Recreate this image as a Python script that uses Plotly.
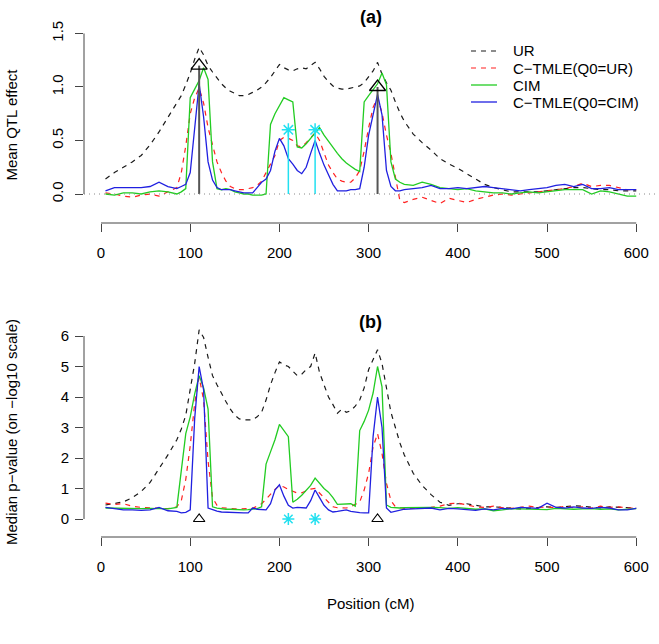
import plotly.graph_objects as go

# ---------------- data ----------------
position_cM = [5, 15, 25, 35, 45, 55, 65, 75, 85,
               90, 95, 100, 105, 110, 115, 120, 125, 130, 135, 140, 145, 150, 155, 160, 165,
               170, 175, 180, 185, 190, 195, 200, 205, 210, 215, 220, 225, 230, 235, 240, 245,
               250, 255, 260, 265, 270, 275, 280, 285, 290, 295, 300, 305, 310, 315, 320, 325,
               330, 335, 340,
               350, 360, 370, 380, 390, 400, 410, 420, 430, 440, 450, 460, 470, 480, 490, 500,
               510, 520, 530, 540, 550, 560, 570, 580, 590, 600]

series_names = ["UR", "C\u2212TMLE(Q0=UR)", "CIM", "C\u2212TMLE(Q0=CIM)"]

# panel (a): mean QTL effect
ur_a = [0.14, 0.20, 0.25, 0.30, 0.36, 0.46, 0.58, 0.72, 0.86,
        0.92, 1.02, 1.13, 1.26, 1.37, 1.30, 1.20, 1.14, 1.08, 1.03, 0.99, 0.96, 0.94, 0.92, 0.92, 0.93,
        0.95, 0.97, 1.00, 1.04, 1.09, 1.15, 1.21, 1.18, 1.16, 1.15, 1.17, 1.18, 1.17, 1.20, 1.23, 1.17,
        1.10, 1.05, 1.01, 0.99, 0.98, 0.98, 0.99, 1.00, 1.01, 1.04, 1.09, 1.15, 1.23, 1.12, 1.04, 0.97,
        0.86, 0.76, 0.68,
        0.56, 0.48, 0.41, 0.33, 0.28, 0.24, 0.19, 0.14, 0.09, 0.06, 0.04, 0.02, 0.02, 0.02, 0.02, 0.03,
        0.04, 0.05, 0.06, 0.06, 0.05, 0.04, 0.04, 0.03, 0.03, 0.03]
ctmle_ur_a = [0.01, 0.00, -0.02, -0.03, -0.01, 0.00, -0.02, 0.02, 0.06,
              0.20, 0.45, 0.75, 0.90, 0.99, 0.85, 0.62, 0.45, 0.30, 0.20, 0.12, 0.07, 0.05, 0.04, 0.04, 0.05,
              0.06, 0.08, 0.12, 0.20, 0.28, 0.36, 0.50, 0.53, 0.52, 0.50, 0.45, 0.44, 0.48, 0.53, 0.57, 0.50,
              0.38, 0.27, 0.20, 0.14, 0.12, 0.11, 0.11, 0.15, 0.22, 0.40, 0.62, 0.81, 0.90, 0.76, 0.55, 0.38,
              0.16, -0.06, -0.08,
              -0.05, -0.03, -0.06, -0.09, -0.04, -0.06, -0.08, -0.05, -0.03, -0.01, 0.00, -0.01, 0.00, 0.01, 0.02, 0.03,
              0.04, 0.05, 0.07, 0.10, 0.07, 0.08, 0.08, 0.06, 0.04, 0.04]
cim_a = [0.00, -0.01, 0.01, 0.01, 0.00, 0.02, 0.03, 0.02, 0.00,
         0.02, 0.05, 0.90, 0.98, 1.06, 1.18, 1.07, 0.30, 0.05, 0.04, 0.05, 0.04, 0.02, 0.01, 0.00, 0.00,
         -0.01, -0.01, -0.01, 0.00, 0.65, 0.75, 0.83, 0.90, 0.88, 0.86, 0.44, 0.43, 0.47, 0.52, 0.57, 0.62,
         0.55, 0.49, 0.43, 0.38, 0.33, 0.29, 0.26, 0.23, 0.21, 0.86, 0.92, 0.97, 1.03, 1.13, 1.02, 0.30,
         0.14, 0.11, 0.09,
         0.08, 0.11, 0.09, 0.06, 0.05, 0.04, 0.05, 0.03, 0.02, 0.01, 0.01, 0.00, 0.01, 0.02, 0.01, 0.02,
         0.03, 0.04, 0.04, 0.04, 0.00, 0.03, 0.02, 0.00, -0.02, -0.02]
ctmle_cim_a = [0.03, 0.06, 0.06, 0.06, 0.06, 0.07, 0.11, 0.07, 0.05,
               0.07, 0.09, 0.20, 0.65, 1.03, 0.72, 0.30, 0.13, 0.06, 0.04, 0.04, 0.04, 0.03, 0.02, 0.01, 0.01,
               0.01, 0.06, 0.11, 0.14, 0.22, 0.40, 0.52, 0.45, 0.33, 0.28, 0.22, 0.19, 0.25, 0.38, 0.50, 0.38,
               0.27, 0.18, 0.09, 0.03, 0.03, 0.03, 0.04, 0.04, 0.05, 0.25, 0.55, 0.75, 0.93, 0.74, 0.22, 0.07,
               0.03, 0.03, 0.04,
               0.05, 0.06, 0.08, 0.05, 0.05, 0.06, 0.05, 0.06, 0.07, 0.06, 0.05, 0.04, 0.03, 0.04, 0.05, 0.06,
               0.08, 0.09, 0.07, 0.09, 0.05, 0.05, 0.06, 0.04, 0.04, 0.04]

# panel (b): median p-value on -log10 scale
ur_b = [0.46, 0.50, 0.56, 0.70, 0.90, 1.20, 1.65, 2.10, 2.60,
        2.95, 3.40, 4.20, 5.10, 6.20, 5.95, 5.30, 4.70, 4.40, 4.10, 3.85, 3.60, 3.40, 3.28, 3.25, 3.25,
        3.25, 3.35, 3.50, 3.90, 4.40, 4.80, 5.15, 5.05, 5.00, 4.85, 4.70, 4.75, 4.90, 5.00, 5.44, 4.80,
        4.40, 4.00, 3.75, 3.47, 3.60, 3.50, 3.55, 3.70, 3.90, 4.30, 4.90, 5.20, 5.55, 5.10, 4.30, 3.50,
        3.00, 2.50, 2.10,
        1.50, 1.10, 0.80, 0.55, 0.45, 0.50, 0.50, 0.45, 0.40, 0.40, 0.38, 0.35, 0.33, 0.35, 0.38, 0.40,
        0.38, 0.40, 0.43, 0.42, 0.38, 0.36, 0.40, 0.38, 0.36, 0.36]
ctmle_ur_b = [0.52, 0.48, 0.50, 0.42, 0.38, 0.36, 0.35, 0.34, 0.40,
              0.60, 1.30, 2.40, 3.80, 4.65, 3.90, 1.90, 0.70, 0.45, 0.37, 0.35, 0.34, 0.33, 0.33, 0.34, 0.34,
              0.35, 0.42, 0.50, 0.65, 0.82, 0.97, 1.10, 1.05, 0.97, 0.90, 0.85, 0.86, 0.92, 0.98, 1.00, 0.85,
              0.68, 0.52, 0.40, 0.37, 0.36, 0.36, 0.40, 0.47, 0.56, 0.95, 1.50, 2.36, 2.80, 2.15, 1.17, 0.60,
              0.40, 0.37, 0.35,
              0.35, 0.36, 0.38, 0.42, 0.50, 0.52, 0.45, 0.40, 0.38, 0.42, 0.37, 0.35, 0.38, 0.42, 0.38, 0.40,
              0.36, 0.42, 0.37, 0.40, 0.36, 0.42, 0.38, 0.40, 0.36, 0.36]
cim_b = [0.36, 0.35, 0.34, 0.33, 0.34, 0.35, 0.34, 0.33, 0.38,
         1.50, 2.80, 3.35, 4.10, 4.70, 4.30, 3.60, 0.40, 0.36, 0.33, 0.32, 0.32, 0.31, 0.30, 0.30, 0.31,
         0.32, 0.34, 0.40, 1.80, 2.20, 2.60, 3.10, 2.90, 2.70, 0.55, 0.65, 0.78, 0.95, 1.10, 1.34, 1.15,
         1.00, 0.88, 0.70, 0.48, 0.48, 0.50, 0.50, 0.42, 2.90, 3.20, 3.57, 4.13, 5.00, 4.33, 0.46, 0.38,
         0.36, 0.36, 0.37,
         0.38, 0.38, 0.38, 0.37, 0.35, 0.37, 0.34, 0.32, 0.33, 0.27, 0.30, 0.34, 0.33, 0.32, 0.33, 0.31,
         0.35, 0.33, 0.32, 0.33, 0.34, 0.32, 0.33, 0.30, 0.33, 0.34]
ctmle_cim_b = [0.38, 0.33, 0.30, 0.30, 0.28, 0.30, 0.38, 0.27, 0.25,
               0.20, 0.22, 0.30, 3.30, 5.00, 4.23, 0.36, 0.30, 0.26, 0.23, 0.22, 0.21, 0.20, 0.20, 0.20, 0.20,
               0.36, 0.32, 0.30, 0.30, 0.50, 0.95, 1.12, 0.75, 0.45, 0.36, 0.38, 0.38, 0.36, 0.60, 0.95, 0.70,
               0.45, 0.30, 0.23, 0.25, 0.28, 0.30, 0.25, 0.22, 0.21, 0.20, 0.20, 2.70, 4.00, 3.00, 0.36, 0.22,
               0.25, 0.30, 0.32,
               0.33, 0.35, 0.36, 0.30, 0.35, 0.33, 0.30, 0.28, 0.33, 0.30, 0.35, 0.33, 0.38, 0.36, 0.35, 0.52,
               0.38, 0.36, 0.40, 0.36, 0.35, 0.38, 0.36, 0.30, 0.30, 0.35]

# true QTL (triangles) and linked QTL (asterisks)
qtl_pos = [110, 310]
qtl_effect = [1.2, 1.0]
linked_pos = [210, 240]
linked_effect = [0.6, 0.6]

x_ticks = [0, 100, 200, 300, 400, 500, 600]
ya_ticks = [0, 0.5, 1.0, 1.5]
ya_ticktext = ["0.0", "0.5", "1.0", "1.5"]
yb_ticks = [0, 1, 2, 3, 4, 5, 6]

# ---------------- styles ----------------
FONT = "Liberation Sans, Arial, sans-serif"
styles = [
    dict(color="#1a1a1a", width=1.2, dash="5px,5px"),
    dict(color="#ff2020", width=1.2, dash="5px,5px"),
    dict(color="#22cc22", width=1.3, dash="solid"),
    dict(color="#2020e0", width=1.3, dash="solid"),
]

fig = go.Figure()

panel_a = [ur_a, ctmle_ur_a, cim_a, ctmle_cim_a]
panel_b = [ur_b, ctmle_ur_b, cim_b, ctmle_cim_b]

for name, vals, st in zip(series_names, panel_a, styles):
    fig.add_trace(go.Scatter(x=position_cM, y=vals, mode="lines", name=name, line=st,
                             xaxis="x", yaxis="y", showlegend=False))
for name, vals, st in zip(series_names, panel_b, styles):
    fig.add_trace(go.Scatter(x=position_cM, y=vals, mode="lines", name=name, line=st,
                             xaxis="x2", yaxis="y2", showlegend=False))


def segs(pos, top):
    xs, ys = [], []
    for p, t in zip(pos, top):
        xs += [p, p, None]
        ys += [0, t, None]
    return xs, ys


# panel (a) vertical lines + markers
qx, qy = segs(qtl_pos, qtl_effect)
fig.add_trace(go.Scatter(x=qx, y=qy, mode="lines", line=dict(color="#555555", width=2),
                         xaxis="x", yaxis="y", showlegend=False))
lx, ly = segs(linked_pos, linked_effect)
fig.add_trace(go.Scatter(x=lx, y=ly, mode="lines", line=dict(color="#22e0f0", width=1.5),
                         xaxis="x", yaxis="y", showlegend=False))
fig.add_trace(go.Scatter(x=qtl_pos, y=qtl_effect, mode="markers",
                         marker=dict(symbol="triangle-up-open", size=14, color="black",
                                     line=dict(width=1.3)),
                         xaxis="x", yaxis="y", showlegend=False))
fig.add_trace(go.Scatter(x=linked_pos, y=linked_effect, mode="markers",
                         marker=dict(symbol="asterisk-open", size=11, color="#22e0f0",
                                     line=dict(width=1.5, color="#22e0f0")),
                         xaxis="x", yaxis="y", showlegend=False))

# panel (b) markers on the baseline
fig.add_trace(go.Scatter(x=qtl_pos, y=[0 for _ in qtl_pos], mode="markers",
                         marker=dict(symbol="triangle-up-open", size=10, color="black",
                                     line=dict(width=1.1)),
                         xaxis="x2", yaxis="y2", showlegend=False))
fig.add_trace(go.Scatter(x=linked_pos, y=[0 for _ in linked_pos], mode="markers",
                         marker=dict(symbol="asterisk-open", size=10, color="#22e0f0",
                                     line=dict(width=1.5, color="#22e0f0")),
                         xaxis="x2", yaxis="y2", showlegend=False))

# ---------------- layout ----------------
W, H = 659, 644
ML, MR, MT, MB = 84, 2, 26, 107
PW, PH = W - ML - MR, H - MT - MB


def px_x(px):
    return (px - ML) / PW


def px_y(py):
    return 1 - (py - MT) / PH


tickfont = dict(family=FONT, size=15, color="black")
xcommon = dict(range=[-19.1, 623.3], tickvals=x_ticks, ticks="outside", ticklen=8,
               tickcolor="#444", tickwidth=1, showline=False, showgrid=False, zeroline=False,
               tickfont=tickfont, ticklabelstandoff=8)

fig.update_layout(
    width=W, height=H,
    margin=dict(l=ML, r=MR, t=MT, b=MB),
    paper_bgcolor="white", plot_bgcolor="white",
    showlegend=False,
    xaxis=dict(domain=[0, 1], anchor="y", **xcommon),
    xaxis2=dict(domain=[0, 1], anchor="y2", **xcommon),
    yaxis=dict(domain=[px_y(223), 1], anchor="x", range=[-0.271, 1.570],
               tickvals=ya_ticks, ticktext=ya_ticktext, tickangle=-90,
               ticks="outside", ticklen=8, tickcolor="#444", tickwidth=1,
               showline=False, showgrid=False, zeroline=False, tickfont=tickfont,
               ticklabelstandoff=6),
    yaxis2=dict(domain=[0, px_y(327)], anchor="x2", range=[-0.59, 6.295],
                tickvals=yb_ticks, tickangle=0,
                ticks="outside", ticklen=8, tickcolor="#444", tickwidth=1,
                showline=False, showgrid=False, zeroline=False, tickfont=tickfont,
                ticklabelstandoff=3),
)

shapes = [
    # detached axis lines (R style)
    dict(type="line", xref="x", yref="y domain", x0=x_ticks[0], x1=x_ticks[-1], y0=0, y1=0,
         line=dict(color="#444", width=1)),
    dict(type="line", xref="x domain", yref="y", x0=0, x1=0, y0=ya_ticks[0], y1=ya_ticks[-1],
         line=dict(color="#444", width=1)),
    dict(type="line", xref="x2", yref="y2 domain", x0=x_ticks[0], x1=x_ticks[-1], y0=0, y1=0,
         line=dict(color="#444", width=1)),
    dict(type="line", xref="x2 domain", yref="y2", x0=0, x1=0, y0=yb_ticks[0], y1=yb_ticks[-1],
         line=dict(color="#444", width=1)),
    # dotted zero reference line in panel (a)
    dict(type="line", xref="x domain", yref="y", x0=0, x1=1, y0=0, y1=0,
         line=dict(color="#888888", width=1, dash="1px,4px")),
]

annotations = [
    dict(text="<b>(a)</b>", x=0.5, y=px_y(17), xref="paper", yref="paper", showarrow=False,
         font=dict(family=FONT, size=18, color="black"), xanchor="center", yanchor="middle"),
    dict(text="<b>(b)</b>", x=0.5, y=px_y(322), xref="paper", yref="paper", showarrow=False,
         font=dict(family=FONT, size=18, color="black"), xanchor="center", yanchor="middle"),
    dict(text="Mean QTL effect", x=px_x(11), y=px_y(124.5), xref="paper", yref="paper",
         showarrow=False, textangle=-90, font=dict(family=FONT, size=15, color="black"),
         xanchor="center", yanchor="middle"),
    dict(text="Median p\u2212value (on \u2212log10 scale)", x=px_x(11), y=px_y(432),
         xref="paper", yref="paper", showarrow=False, textangle=-90,
         font=dict(family=FONT, size=15, color="black"), xanchor="center", yanchor="middle"),
    dict(text="Position (cM)", x=0.5, y=px_y(603), xref="paper", yref="paper", showarrow=False,
         font=dict(family=FONT, size=15, color="black"), xanchor="center", yanchor="middle"),
]

# legend (R-style, no box) in panel (a)
for i, (name, st) in enumerate(zip(series_names, styles)):
    yy = px_y(51 + 17 * i)
    shapes.append(dict(type="line", xref="paper", yref="paper", x0=px_x(471), x1=px_x(497),
                       y0=yy, y1=yy, line=st))
    annotations.append(dict(text=name, x=px_x(511), y=yy, xref="paper", yref="paper",
                            showarrow=False, xanchor="left", yanchor="middle",
                            font=dict(family=FONT, size=15, color="black")))

fig.update_layout(shapes=shapes, annotations=annotations)

fig.write_html("out.html")
